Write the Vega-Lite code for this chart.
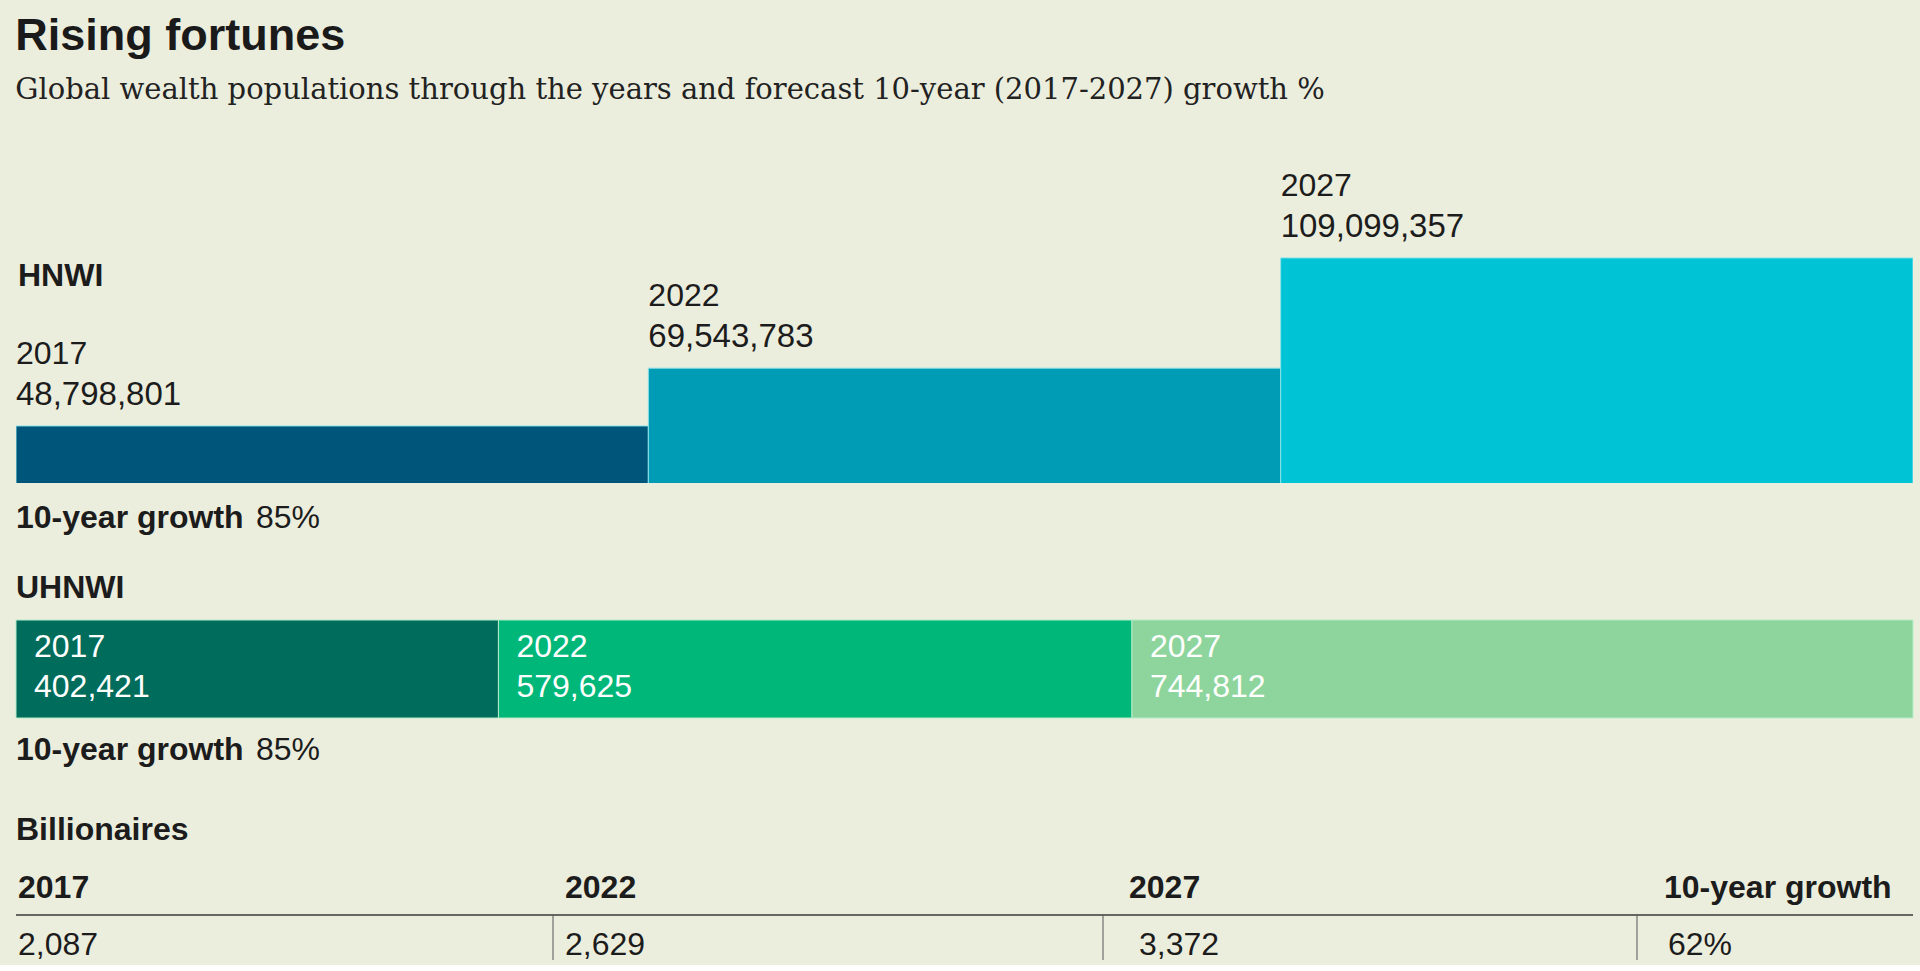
{
  "$schema": "https://vega.github.io/schema/vega-lite/v6.json",
  "background": "#ECEEDD",
  "padding": {"left": 15, "top": 14, "right": 8, "bottom": 0},
  "bounds": "flush",
  "spacing": 137,
  "title": {
    "text": "Rising fortunes",
    "subtitle": "Global wealth populations through the years and forecast 10-year (2017-2027) growth %",
    "anchor": "start",
    "font": "Liberation Sans",
    "fontSize": 45,
    "fontWeight": "bold",
    "color": "#1a1a1a",
    "subtitleFont": "DejaVu Serif",
    "subtitleFontSize": 29,
    "subtitleColor": "#222222",
    "subtitlePadding": 17,
    "offset": 60
  },
  "config": {
    "view": {"stroke": null},
    "title": {"font": "Liberation Sans", "fontSize": 32, "fontWeight": "bold", "color": "#1c1c1c", "anchor": "start"},
    "text": {"font": "Liberation Sans", "fontSize": 32, "color": "#1c1c1c"}
  },
  "resolve": {"scale": {"color": "independent"}},
  "datasets": {
    "hnwi": [
      {"year": "2017", "population": 48798801},
      {"year": "2022", "population": 69543783},
      {"year": "2027", "population": 109099357}
    ],
    "uhnwi": [
      {"year": "2017", "population": 402421},
      {"year": "2022", "population": 579625},
      {"year": "2027", "population": 744812}
    ],
    "growth": [
      {"group": "HNWI", "label": "10-year growth", "growth": 0.85},
      {"group": "UHNWI", "label": "10-year growth", "growth": 0.85}
    ],
    "billionaires": [
      {"column": "2017", "value": 2087},
      {"column": "2022", "value": 2629},
      {"column": "2027", "value": 3372},
      {"column": "10-year growth", "value": 0.62}
    ]
  },
  "vconcat": [
    {
      "width": 1897,
      "height": 318,
      "title": {"text": "HNWI", "anchor": "start", "frame": "group", "offset": -128, "dx": 2},
      "layer": [
        {
          "data": {"name": "hnwi"},
          "mark": {"type": "bar", "clip": true, "stroke": "#8fe2e8", "strokeWidth": 1},
          "encoding": {
            "x": {"field": "year", "type": "nominal", "scale": {"type": "band", "paddingInner": 0, "paddingOuter": 0}, "axis": null},
            "y": {"field": "population", "type": "quantitative", "scale": {"domain": [28330000, 142430000], "zero": false, "nice": false}, "axis": null},
            "color": {"field": "year", "type": "nominal", "scale": {"domain": ["2017", "2022", "2027"], "range": ["#00557A", "#009CB6", "#00C4D5"]}, "legend": null}
          }
        },
        {
          "data": {"name": "hnwi"},
          "mark": {"type": "text", "align": "left", "baseline": "alphabetic", "dy": -62},
          "encoding": {
            "x": {"field": "year", "type": "nominal", "bandPosition": 0},
            "y": {"field": "population", "type": "quantitative"},
            "text": {"field": "year"}
          }
        },
        {
          "data": {"name": "hnwi"},
          "mark": {"type": "text", "align": "left", "baseline": "alphabetic", "dy": -21, "fontSize": 33},
          "encoding": {
            "x": {"field": "year", "type": "nominal", "bandPosition": 0},
            "y": {"field": "population", "type": "quantitative"},
            "text": {"field": "population", "type": "quantitative", "format": ","}
          }
        },
        {
          "data": {"name": "growth"},
          "transform": [{"filter": "datum.group === 'HNWI'"}],
          "mark": {"type": "text", "align": "left", "baseline": "alphabetic", "dy": 45, "fontWeight": "bold"},
          "encoding": {
            "x": {"datum": "2017", "type": "nominal", "bandPosition": 0},
            "y": {"datum": 28330000, "type": "quantitative"},
            "text": {"field": "label"}
          }
        },
        {
          "data": {"name": "growth"},
          "transform": [{"filter": "datum.group === 'HNWI'"}],
          "mark": {"type": "text", "align": "left", "baseline": "alphabetic", "dy": 45, "dx": 240},
          "encoding": {
            "x": {"datum": "2017", "type": "nominal", "bandPosition": 0},
            "y": {"datum": 28330000, "type": "quantitative"},
            "text": {"field": "growth", "type": "quantitative", "format": ".0%"}
          }
        }
      ]
    },
    {
      "width": 1897,
      "height": 98,
      "title": {"text": "UHNWI", "anchor": "start", "frame": "group", "offset": 15},
      "layer": [
        {
          "data": {"name": "uhnwi"},
          "transform": [{"stack": "population", "groupby": [], "sort": [{"field": "year", "order": "ascending"}], "as": ["x0", "x1"]}],
          "mark": {"type": "bar", "stroke": "#b5ecc8", "strokeWidth": 1},
          "encoding": {
            "x": {"field": "x0", "type": "quantitative", "scale": {"type": "pow", "exponent": 0.94, "domain": [0, 1726858], "nice": false, "zero": true}, "axis": null},
            "x2": {"field": "x1"},
            "y": {"datum": "UHNWI", "type": "nominal", "scale": {"type": "band", "paddingInner": 0, "paddingOuter": 0}, "axis": null},
            "color": {"field": "year", "type": "nominal", "scale": {"domain": ["2017", "2022", "2027"], "range": ["#006C5B", "#00B77A", "#8ED59D"]}, "legend": null}
          }
        },
        {
          "data": {"name": "uhnwi"},
          "transform": [{"stack": "population", "groupby": [], "sort": [{"field": "year", "order": "ascending"}], "as": ["x0", "x1"]}],
          "mark": {"type": "text", "align": "left", "baseline": "alphabetic", "dx": 18, "dy": -12, "color": "#ffffff"},
          "encoding": {
            "x": {"field": "x0", "type": "quantitative"},
            "text": {"field": "year"}
          }
        },
        {
          "data": {"name": "uhnwi"},
          "transform": [{"stack": "population", "groupby": [], "sort": [{"field": "year", "order": "ascending"}], "as": ["x0", "x1"]}],
          "mark": {"type": "text", "align": "left", "baseline": "alphabetic", "dx": 18, "dy": 28, "color": "#ffffff"},
          "encoding": {
            "x": {"field": "x0", "type": "quantitative"},
            "text": {"field": "population", "type": "quantitative", "format": ","}
          }
        },
        {
          "data": {"name": "growth"},
          "transform": [{"filter": "datum.group === 'UHNWI'"}],
          "mark": {"type": "text", "align": "left", "baseline": "alphabetic", "dy": 91, "fontWeight": "bold"},
          "encoding": {
            "x": {"datum": 0, "type": "quantitative"},
            "text": {"field": "label"}
          }
        },
        {
          "data": {"name": "growth"},
          "transform": [{"filter": "datum.group === 'UHNWI'"}],
          "mark": {"type": "text", "align": "left", "baseline": "alphabetic", "dy": 91, "dx": 240},
          "encoding": {
            "x": {"datum": 0, "type": "quantitative"},
            "text": {"field": "growth", "type": "quantitative", "format": ".0%"}
          }
        }
      ]
    },
    {
      "title": {"text": "Billionaires", "anchor": "start", "frame": "group", "offset": 8},
      "data": {"name": "billionaires"},
      "bounds": "flush",
      "spacing": 0,
      "hconcat": [
        {
          "width": 537,
          "height": 110,
          "transform": [{"filter": "datum.column === '2017'"}],
          "layer": [
            {
              "mark": {"type": "text", "align": "left", "baseline": "alphabetic", "fontWeight": "bold", "dx": 2},
              "encoding": {
                "x": {"field": "column", "type": "nominal", "bandPosition": 0, "scale": {"type": "band", "paddingInner": 0, "paddingOuter": 0}, "axis": null},
                "y": {"datum": "header", "type": "nominal", "bandPosition": 0.62, "scale": {"type": "band", "domain": ["header", "value"], "paddingInner": 0, "paddingOuter": 0.222, "align": 0.75}, "axis": null},
                "text": {"field": "column"}
              }
            },
            {
              "mark": {"type": "text", "align": "left", "baseline": "alphabetic", "dx": 2},
              "encoding": {
                "x": {"field": "column", "type": "nominal", "bandPosition": 0},
                "y": {"datum": "value", "type": "nominal", "bandPosition": 0.89},
                "text": {"field": "value", "type": "quantitative", "format": ","}
              }
            },
            {
              "mark": {"type": "rule", "color": "#3a3a3a", "strokeWidth": 1.5},
              "encoding": {
                "y": {"datum": "value", "type": "nominal", "bandPosition": 0}
              }
            }
          ]
        },
        {
          "width": 550,
          "height": 110,
          "transform": [{"filter": "datum.column === '2022'"}],
          "layer": [
            {
              "mark": {"type": "text", "align": "left", "baseline": "alphabetic", "fontWeight": "bold", "dx": 12},
              "encoding": {
                "x": {"field": "column", "type": "nominal", "bandPosition": 0, "scale": {"type": "band", "paddingInner": 0, "paddingOuter": 0}, "axis": null},
                "y": {"datum": "header", "type": "nominal", "bandPosition": 0.62, "scale": {"type": "band", "domain": ["header", "value"], "paddingInner": 0, "paddingOuter": 0.222, "align": 0.75}, "axis": null},
                "text": {"field": "column"}
              }
            },
            {
              "mark": {"type": "text", "align": "left", "baseline": "alphabetic", "dx": 12},
              "encoding": {
                "x": {"field": "column", "type": "nominal", "bandPosition": 0},
                "y": {"datum": "value", "type": "nominal", "bandPosition": 0.89},
                "text": {"field": "value", "type": "quantitative", "format": ","}
              }
            },
            {
              "mark": {"type": "rule", "color": "#3a3a3a", "strokeWidth": 1.5},
              "encoding": {
                "y": {"datum": "value", "type": "nominal", "bandPosition": 0}
              }
            },
            {
              "mark": {"type": "rule", "color": "#555555", "strokeWidth": 1},
              "encoding": {
                "x": {"field": "column", "type": "nominal", "bandPosition": 0},
                "y": {"datum": "value", "type": "nominal", "bandPosition": 0},
                "y2": {"datum": "value", "bandPosition": 1}
              }
            }
          ]
        },
        {
          "width": 534,
          "height": 110,
          "transform": [{"filter": "datum.column === '2027'"}],
          "layer": [
            {
              "mark": {"type": "text", "align": "left", "baseline": "alphabetic", "fontWeight": "bold", "dx": 26},
              "encoding": {
                "x": {"field": "column", "type": "nominal", "bandPosition": 0, "scale": {"type": "band", "paddingInner": 0, "paddingOuter": 0}, "axis": null},
                "y": {"datum": "header", "type": "nominal", "bandPosition": 0.62, "scale": {"type": "band", "domain": ["header", "value"], "paddingInner": 0, "paddingOuter": 0.222, "align": 0.75}, "axis": null},
                "text": {"field": "column"}
              }
            },
            {
              "mark": {"type": "text", "align": "left", "baseline": "alphabetic", "dx": 36},
              "encoding": {
                "x": {"field": "column", "type": "nominal", "bandPosition": 0},
                "y": {"datum": "value", "type": "nominal", "bandPosition": 0.89},
                "text": {"field": "value", "type": "quantitative", "format": ","}
              }
            },
            {
              "mark": {"type": "rule", "color": "#3a3a3a", "strokeWidth": 1.5},
              "encoding": {
                "y": {"datum": "value", "type": "nominal", "bandPosition": 0}
              }
            },
            {
              "mark": {"type": "rule", "color": "#555555", "strokeWidth": 1},
              "encoding": {
                "x": {"field": "column", "type": "nominal", "bandPosition": 0},
                "y": {"datum": "value", "type": "nominal", "bandPosition": 0},
                "y2": {"datum": "value", "bandPosition": 1}
              }
            }
          ]
        },
        {
          "width": 276,
          "height": 110,
          "transform": [{"filter": "datum.column === '10-year growth'"}],
          "layer": [
            {
              "mark": {"type": "text", "align": "left", "baseline": "alphabetic", "fontWeight": "bold", "dx": 27},
              "encoding": {
                "x": {"field": "column", "type": "nominal", "bandPosition": 0, "scale": {"type": "band", "paddingInner": 0, "paddingOuter": 0}, "axis": null},
                "y": {"datum": "header", "type": "nominal", "bandPosition": 0.62, "scale": {"type": "band", "domain": ["header", "value"], "paddingInner": 0, "paddingOuter": 0.222, "align": 0.75}, "axis": null},
                "text": {"field": "column"}
              }
            },
            {
              "mark": {"type": "text", "align": "left", "baseline": "alphabetic", "dx": 31},
              "encoding": {
                "x": {"field": "column", "type": "nominal", "bandPosition": 0},
                "y": {"datum": "value", "type": "nominal", "bandPosition": 0.89},
                "text": {"field": "value", "type": "quantitative", "format": ".0%"}
              }
            },
            {
              "mark": {"type": "rule", "color": "#3a3a3a", "strokeWidth": 1.5},
              "encoding": {
                "y": {"datum": "value", "type": "nominal", "bandPosition": 0}
              }
            },
            {
              "mark": {"type": "rule", "color": "#555555", "strokeWidth": 1},
              "encoding": {
                "x": {"field": "column", "type": "nominal", "bandPosition": 0},
                "y": {"datum": "value", "type": "nominal", "bandPosition": 0},
                "y2": {"datum": "value", "bandPosition": 1}
              }
            }
          ]
        }
      ]
    }
  ]
}
